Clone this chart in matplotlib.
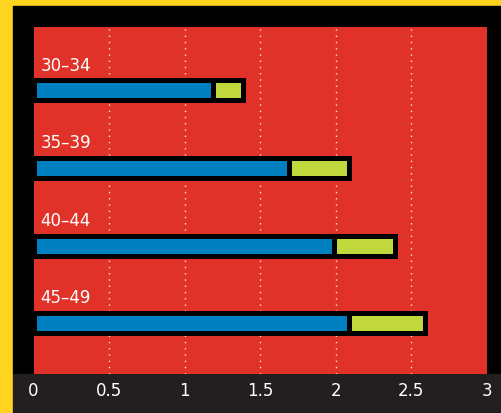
import matplotlib.pyplot as plt
from matplotlib.patches import Rectangle

# age groups, top to bottom
groups = ['30–34', '35–39', '40–44', '45–49']
blue_vals = [1.19, 1.69, 1.99, 2.09]
green_vals = [0.20, 0.40, 0.40, 0.50]
tick_vals = [0, 0.5, 1, 1.5, 2, 2.5, 3]
tick_text = ['0', '0.5', '1', '1.5', '2', '2.5', '3']

yellow = '#FFD41F'
red = '#E03228'
blue = '#0080C0'
green = '#C0D83C'
dark = '#231F20'

W, H = 501, 413
fig = plt.figure(figsize=(W / 100, H / 100), dpi=100, facecolor=yellow)

# black frame and dark strip along the bottom
fig.patches.append(Rectangle((12.5 / W, 39 / H), 1, (374 - 6) / H,
                             transform=fig.transFigure, color='black', zorder=-2))
fig.patches.append(Rectangle((12.5 / W, 0), 1, 39 / H,
                             transform=fig.transFigure, color=dark, zorder=-2))

ax = fig.add_axes([33.5 / W, 39 / H, (486.7 - 33.5) / W, (374 - 27) / H])
ax.set_zorder(1)
ax.set_facecolor(red)
for s in ax.spines.values():
    s.set_visible(False)

pos = list(range(len(groups)))
for t in tick_vals[1:-1]:
    ax.axvline(t, color='white', lw=1, ls=(0, (1, 3.5)), alpha=0.85, zorder=1)

ax.barh(pos, blue_vals, height=0.258, color=blue, edgecolor='black',
        linewidth=3.6, zorder=2)
ax.barh(pos, green_vals, left=blue_vals, height=0.258, color=green,
        edgecolor='black', linewidth=3.6, zorder=2)

for i, g in enumerate(groups):
    ax.text(0.045, i - 0.32, g, color='white', fontsize=12, va='center',
            ha='left', zorder=3)

ax.set_xlim(0, 3)
ax.set_ylim(3.653, -0.818)
ax.set_yticks([])
ax.set_xticks(tick_vals)
ax.set_xticklabels(tick_text)
ax.tick_params(axis='x', length=0, pad=6, labelcolor='white', labelsize=12)

fig.savefig('out.png', dpi=100, facecolor=yellow)
